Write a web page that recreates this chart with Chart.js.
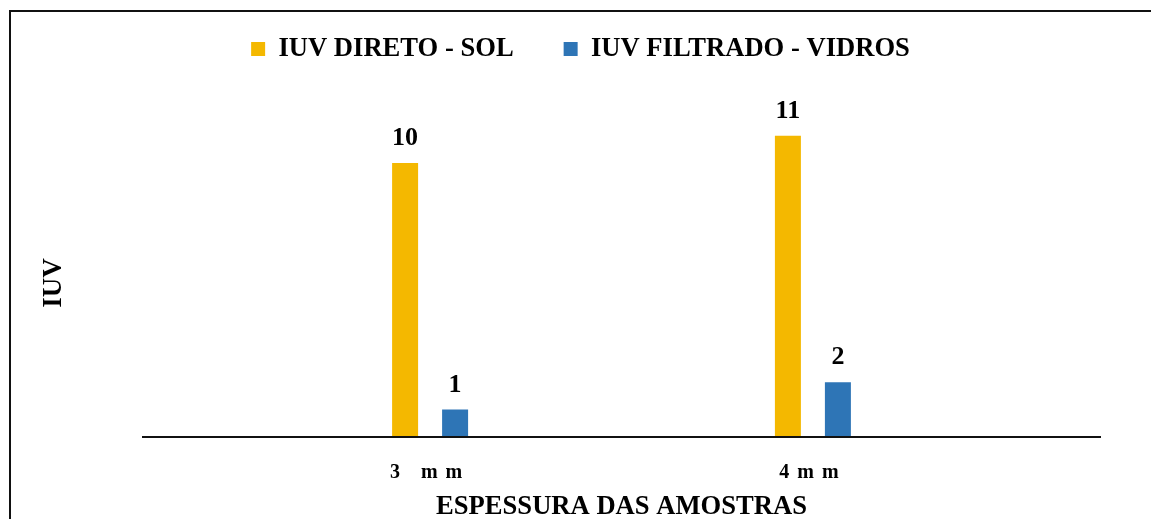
<!DOCTYPE html>
<html>
<head>
<meta charset="utf-8">
<script src="https://cdn.jsdelivr.net/npm/chart.js@4/dist/chart.umd.min.js"></script>
<style>
  html, body { margin: 0; padding: 0; overflow: hidden; background: #fff; }
  canvas { display: block; }
</style>
</head>
<body>
<canvas id="c" width="1151" height="524"></canvas>
<script>
// Sample thickness categories and UV index readings
const categories = ['3 mm', '4mm'];
const seriesNames = ['IUV DIRETO - SOL', 'IUV FILTRADO - VIDROS'];
const directValues = [10, 11];
const filteredValues = [1, 2];
const seriesColors = ['#F4B800', '#2E75B6'];
const yTitle = 'IUV';
const xTitle = 'ESPESSURA DAS AMOSTRAS';

const serif = "'Liberation Serif', 'Times New Roman', serif";

// Bars sit on a linear x scale so the category slots can be spaced freely
const toPoints = vals => vals.map((v, i) => ({ x: i, y: v }));

// Thin black frame around the figure
const framePlugin = {
  id: 'frame',
  beforeDraw(chart) {
    const ctx = chart.ctx;
    ctx.save();
    ctx.strokeStyle = '#111';
    ctx.lineWidth = 2;
    ctx.strokeRect(10, 11, 1400, 800);
    ctx.restore();
  }
};

// Extra room between the legend row and the plot
const legendGapPlugin = {
  id: 'legendGap',
  beforeLayout(chart) {
    const lg = chart.legend;
    if (lg && !lg._gapAdded) {
      const fit = lg.fit;
      lg.fit = function () { fit.call(this); this.height += 56.5; };
      lg._gapAdded = true;
    }
  }
};

// Value labels above each bar; also widens the letter spacing of the category labels
const valueLabelPlugin = {
  id: 'valueLabels',
  afterDatasetsDraw(chart) {
    const ctx = chart.ctx;
    ctx.save();
    ctx.font = 'bold 26px ' + serif;
    ctx.fillStyle = '#000';
    ctx.textAlign = 'center';
    ctx.textBaseline = 'alphabetic';
    chart.data.datasets.forEach((ds, di) => {
      const meta = chart.getDatasetMeta(di);
      meta.data.forEach((bar, i) => {
        ctx.fillText(String(ds.data[i].y), bar.x, bar.y - 18);
      });
    });
    ctx.restore();
    ctx.letterSpacing = '8px';
  },
  afterDraw(chart) {
    chart.ctx.letterSpacing = '0px';
  }
};

new Chart(document.getElementById('c'), {
  type: 'bar',
  data: {
    datasets: [
      {
        label: seriesNames[0],
        data: toPoints(directValues),
        backgroundColor: seriesColors[0],
        borderWidth: 0,
        categoryPercentage: 0.2612,
        barPercentage: 0.52
      },
      {
        label: seriesNames[1],
        data: toPoints(filteredValues),
        backgroundColor: seriesColors[1],
        borderWidth: 0,
        categoryPercentage: 0.2612,
        barPercentage: 0.52
      }
    ]
  },
  options: {
    responsive: false,
    animation: false,
    events: [],
    layout: { padding: { top: -14.3, left: 61, right: 51, bottom: 1.1 } },
    plugins: {
      legend: {
        position: 'top',
        labels: {
          boxWidth: 14,
          boxHeight: 14,
          padding: 50,
          color: '#000',
          font: { family: serif, size: 26.6, weight: 'bold' }
        }
      },
      tooltip: { enabled: false }
    },
    scales: {
      x: {
        type: 'linear',
        min: -0.75,
        max: 1.75,
        offset: false,
        grid: { display: false, drawTicks: false },
        border: { display: true, color: '#111', width: 2, z: 1 },
        afterBuildTicks(scale) {
          scale.ticks = categories.map((_, i) => ({ value: i }));
        },
        ticks: {
          z: 1,
          padding: 23.5,
          autoSkip: false,
          maxRotation: 0,
          color: '#000',
          font: { family: serif, size: 20, weight: 'bold', lineHeight: 1.2 },
          callback: v => categories[v] ?? ''
        },
        title: {
          display: true,
          text: xTitle,
          color: '#000',
          font: { family: serif, size: 26.6, weight: 'bold', lineHeight: 1.2 },
          padding: { top: -17, bottom: 0 }
        }
      },
      y: {
        min: 0,
        max: 11.25,
        grid: { display: false, drawTicks: false },
        border: { display: false },
        ticks: { display: false },
        title: {
          display: true,
          text: yTitle,
          color: '#000',
          font: { family: serif, size: 27, weight: 'bold', lineHeight: 1.2 },
          padding: { top: -23, bottom: 0 }
        },
        afterFit(scale) { scale.width = 82; }
      }
    }
  },
  plugins: [framePlugin, legendGapPlugin, valueLabelPlugin]
});
</script>
</body>
</html>
